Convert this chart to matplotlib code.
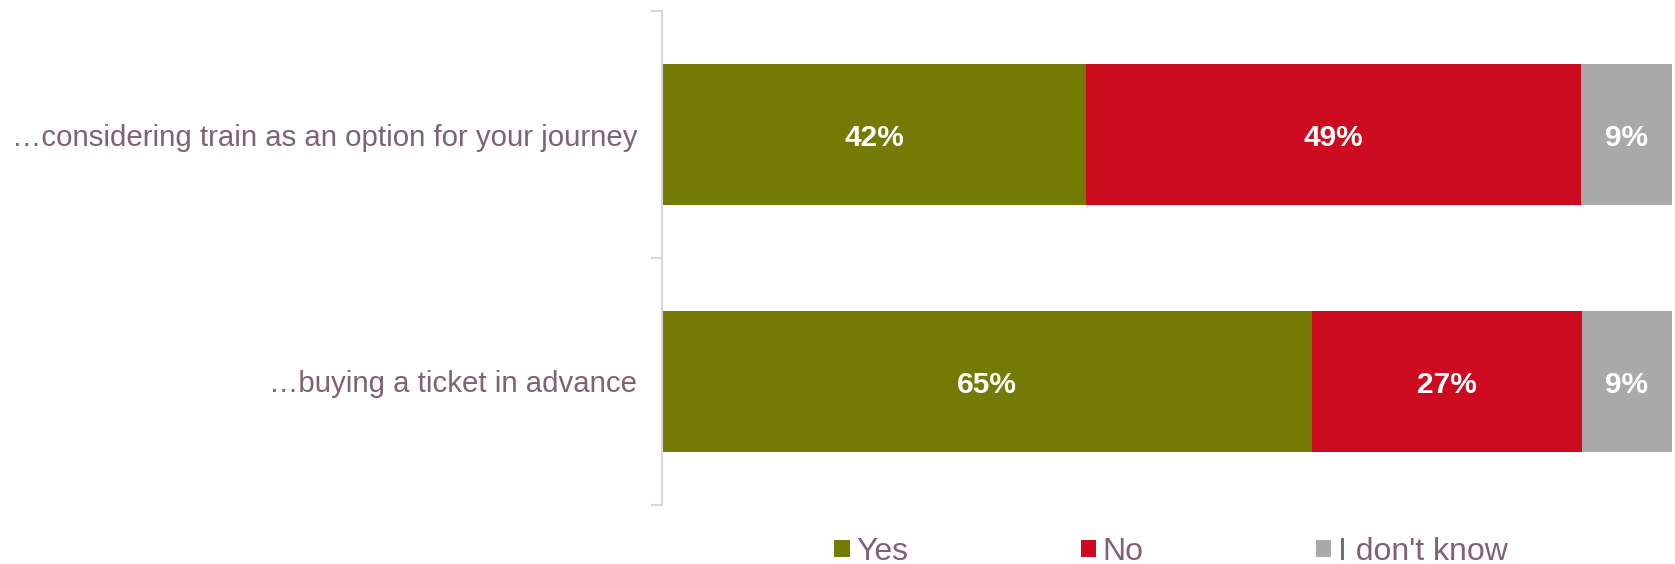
import matplotlib
matplotlib.use("Agg")
import matplotlib.pyplot as plt
import numpy as np

categories = ["…considering train as an option for your journey",
              "…buying a ticket in advance"]
series_names = ["Yes", "No", "I don't know"]
yes = [42, 65]
no = [49, 27]
dont_know = [9, 9]
colors = ["#737B05", "#CC0A20", "#A9A9A9"]

text_color = "#7F6273"
spine_color = "#DCD5D9"

plt.rcParams["font.family"] = ["Liberation Sans", "DejaVu Sans"]

fig = plt.figure(figsize=(16.75, 5.64), dpi=100)
ax = fig.add_axes([662 / 1675, 59 / 564, 1010 / 1675, 494 / 564])

values = np.array([yes, no, dont_know], dtype=float)
totals = values.sum(axis=0)
shares = values / totals  # 100% stacked per row

y = np.arange(len(categories))
left = np.zeros(len(categories))
for name, share, raw, col in zip(series_names, shares, values, colors):
    ax.barh(y, share, left=left, height=0.57, color=col, label=name,
            edgecolor="none")
    for yi, l, s, r in zip(y, left, share, raw):
        ax.annotate(f"{int(r)}%", (l + s / 2, yi), xytext=(0, -2.5),
                    textcoords="offset points", ha="center", va="center",
                    color="white", fontsize=21.5, fontweight="bold")
    left += share

ax.set_xlim(0, 1)
ax.set_ylim(1.5, -0.5)
ax.set_xticks([])
ax.set_yticks([-0.5, 0.5, 1.5])
ax.set_yticklabels([])
ax.set_yticks(y, minor=True)
ax.set_yticklabels(categories, minor=True)
ax.tick_params(axis="y", which="major", length=8, width=1.5, color=spine_color)
ax.tick_params(axis="y", which="minor", length=0, pad=18, labelsize=21.2,
               labelcolor=text_color)
for lbl in ax.get_yticklabels(minor=True):
    lbl.set_va("center_baseline")
for side in ["top", "right", "bottom"]:
    ax.spines[side].set_visible(False)
ax.spines["left"].set_color(spine_color)
ax.spines["left"].set_linewidth(1.5)

leg = fig.legend(loc="lower center", bbox_to_anchor=(1171 / 1675, -0.056),
                 ncol=3, frameon=False, fontsize=23, handlelength=0.48,
                 handleheight=0.48, handletextpad=0.2, columnspacing=5.4)
for t in leg.get_texts():
    t.set_color(text_color)

fig.savefig("out.png", dpi=100)
